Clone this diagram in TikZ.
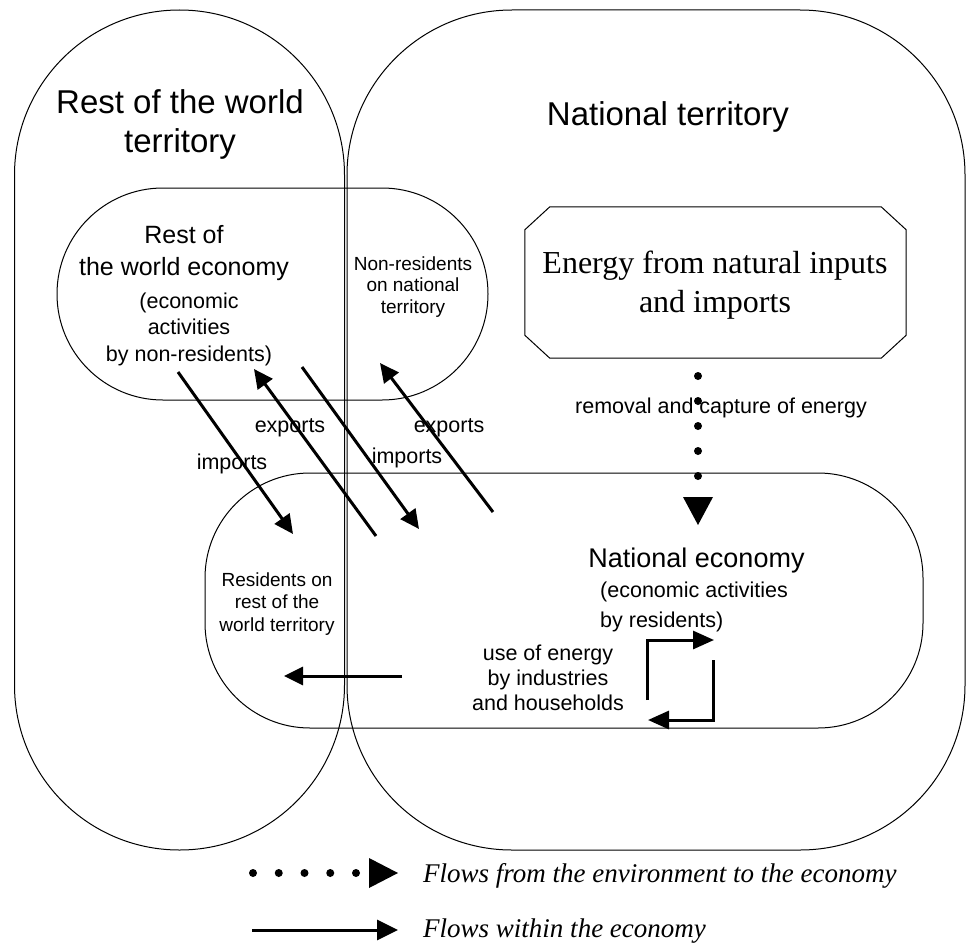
\documentclass[tikz,border=0pt]{standalone}
\usepackage{fontspec}
\setmainfont{Liberation Sans}
\newfontfamily\seriffont{Liberation Serif}
\usetikzlibrary{arrows.meta}
\begin{document}
\begin{tikzpicture}[x=1pt,y=-1pt,
  region/.style={draw, line width=1pt, rectangle, inner sep=0pt},
  flow/.style={line width=3pt, -{Triangle[length=19pt,width=18pt]}},
  dotline/.style={line width=8pt, line cap=round, dash pattern=on 0pt off 25pt},
  txt/.style={inner sep=0pt, anchor=base, align=center},
  title/.style={txt, font=\fontsize{33}{39}\selectfont},
  lbl/.style={txt, font=\fontsize{21.5}{26.5}\selectfont},
  small/.style={txt, font=\fontsize{19}{21.5}\selectfont},
]
\useasboundingbox (0,0) rectangle (974,942);

% territories
\node[region, minimum width=330pt, minimum height=840pt, rounded corners=164.9pt] (rowt) at (179.5,430) {};
\node[region, minimum width=618pt, minimum height=840pt, rounded corners=164.9pt] (nt) at (656,430) {};
% economies
\node[region, minimum width=431pt, minimum height=212pt, rounded corners=105.9pt] (rowe) at (272.5,294) {};
\node[region, minimum width=718pt, minimum height=255pt, rounded corners=105pt] (ne) at (564,600.5) {};

% energy box
\node[inner sep=0pt, minimum width=381pt, minimum height=151pt] (en) at (715.5,282.5) {};
\draw[line width=1pt] ([xshift=25pt]en.north west) -- ([xshift=-25pt]en.north east)
  -- ([yshift=-23pt]en.north east) -- ([yshift=23pt]en.south east)
  -- ([xshift=-25pt]en.south east) -- ([xshift=25pt]en.south west)
  -- ([yshift=23pt]en.south west) -- ([yshift=-23pt]en.north west) -- cycle;
\node[txt, font=\seriffont\fontsize{32}{39}\selectfont] (entext) at (715,312) {Energy from natural inputs\\and imports};

% titles and labels (base anchor = baseline of last line)
\node[title] (trow) at (180,152) {Rest of the world\\territory};
\node[title] (tnt) at (668,125) {National territory};
\node[txt, font=\fontsize{25}{32}\selectfont] (trowe) at (184,275) {Rest of\\the world economy};
\node[lbl] (trowe2) at (189,361) {(economic\\activities\\by non-residents)};
\node[small] (tnonres) at (413,313) {Non-residents\\on national\\territory};
\node[txt, font=\fontsize{19}{22.5}\selectfont] (tres) at (277,631) {Residents on\\rest of the\\world territory};
\node[txt, font=\fontsize{27}{32}\selectfont] (tne) at (696.5,567) {National economy};
\node[lbl, align=left, anchor=base west, font=\fontsize{21.5}{30}\selectfont] (tne2) at (600,627) {(economic activities\\by residents)};
\node[lbl, font=\fontsize{21.5}{25}\selectfont] (tuse) at (548,710) {use of energy\\by industries\\and households};

% dotted flow from environment
\coordinate (d1) at (698,376);
\coordinate (d2) at (698,477);
\draw[dotline] (d1) -- (d2);
\fill (683,497) -- (713,497) -- (698,525) -- cycle;
\node[lbl] (trem) at (721,413) {removal and capture of energy};

% imports / exports
\coordinate (a1s) at (178,372); \coordinate (a1e) at (293,534);
\coordinate (a2s) at (376,536); \coordinate (a2e) at (254,369);
\coordinate (a3s) at (302,367); \coordinate (a3e) at (419,529);
\coordinate (a4s) at (493,512); \coordinate (a4e) at (380,363);
\draw[flow] (a1s) -- (a1e);
\draw[flow] (a2s) -- (a2e);
\draw[flow] (a3s) -- (a3e);
\draw[flow] (a4s) -- (a4e);
\node[lbl] (ex1) at (290,432) {exports};
\node[lbl] (ex2) at (449,432) {exports};
\node[lbl] (im1) at (232,469) {imports};
\node[lbl] (im2) at (407,463) {imports};

% flow to residents abroad
\coordinate (h1) at (402,676); \coordinate (h2) at (284,676);
\draw[flow] (h1) -- (h2);

% loop
\draw[flow, -{Triangle[length=21pt,width=18pt]}] (647,700) -- (647,640) -- (714,640);
\draw[flow, -{Triangle[length=21pt,width=18pt]}] (713,660) -- (713,720) -- (648,720);

% legend
\draw[dotline, dash pattern=on 0pt off 25.75pt] (253,873) -- (357,873);
\fill (369,858) -- (398,873) -- (369,888) -- cycle;
\draw[line width=3pt, -{Triangle[length=21pt,width=20pt]}] (252,930) -- (398,930);
\node[inner sep=0pt, anchor=base west, font=\seriffont\itshape\fontsize{27}{32}\selectfont] (leg1) at (423,882) {Flows from the environment to the economy};
\node[inner sep=0pt, anchor=base west, font=\seriffont\itshape\fontsize{27}{32}\selectfont] (leg2) at (423,937) {Flows within the economy};
\end{tikzpicture}
\end{document}
